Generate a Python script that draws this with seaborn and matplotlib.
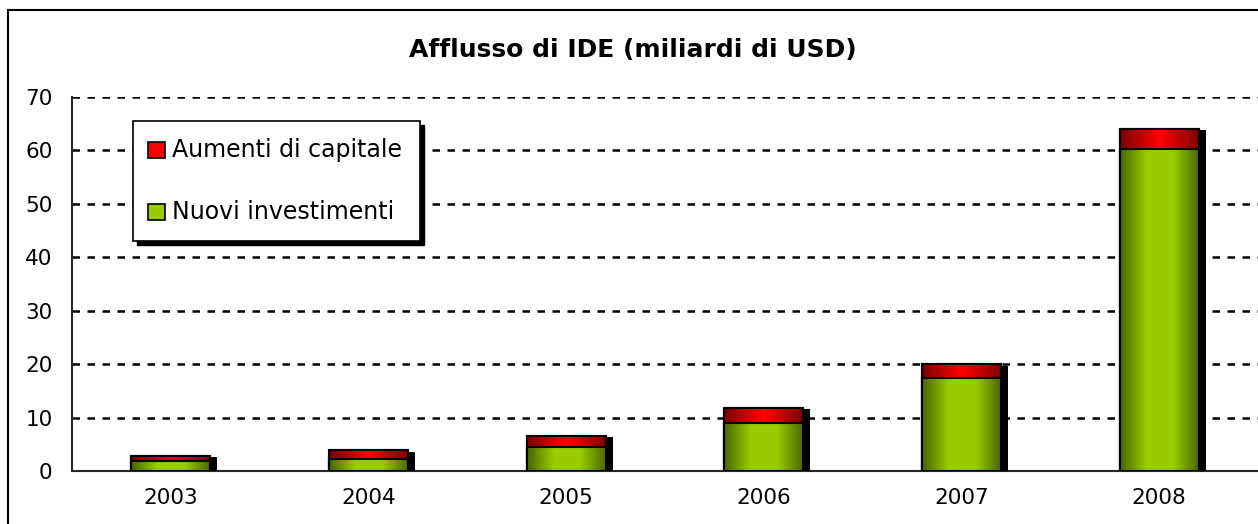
import numpy as np
import pandas as pd
import matplotlib
matplotlib.use("Agg")
import matplotlib.pyplot as plt
import seaborn as sns
from matplotlib.colors import LinearSegmentedColormap
from matplotlib.patches import Rectangle
import matplotlib.patheffects as pe

# data
years = ["2003", "2004", "2005", "2006", "2007", "2008"]
nuovi = [1.9, 2.2, 4.5, 9.0, 17.4, 60.3]
aumenti = [1.0, 1.7, 2.1, 2.8, 2.6, 3.7]
totale = [n + a for n, a in zip(nuovi, aumenti)]
y_ticks = [0, 10, 20, 30, 40, 50, 60, 70]

df = pd.DataFrame({"anno": years, "nuovi": nuovi, "totale": totale})

sns.set_style("white")
plt.rcParams["font.family"] = ["DejaVu Sans"]
plt.rcParams["text.color"] = "black"
plt.rcParams["xtick.color"] = "black"
plt.rcParams["ytick.color"] = "black"

fig = plt.figure(figsize=(12.58, 5.24), dpi=100)
ax = fig.add_axes([72 / 1258, 53 / 524, 1 - 72 / 1258, 374 / 524])

# outer chart frame
fig.patches.append(Rectangle((8 / 1258, -0.05), 1.2, 1 - 10 / 524 + 0.05,
                             transform=fig.transFigure, fill=False,
                             edgecolor="black", linewidth=1.5, zorder=0))

shadow = [pe.SimplePatchShadow(offset=(5, -1), shadow_rgbFace="black", alpha=1), pe.Normal()]
sns.barplot(data=df, x="anno", y="totale", color="red", width=0.4,
            edgecolor="black", linewidth=1.5, ax=ax, zorder=3)
n_red = len(ax.patches)
sns.barplot(data=df, x="anno", y="nuovi", color="#99cc00", width=0.4,
            edgecolor="black", linewidth=1.5, ax=ax, zorder=4)

# horizontal shading inside each bar segment
red_cmap = LinearSegmentedColormap.from_list("r", ["#7a0000", "#ff0000", "#7a0000"])
green_cmap = LinearSegmentedColormap.from_list("g", ["#4a6400", "#99cc00", "#99cc00", "#4a6400"])
grad = np.linspace(0, 1, 256).reshape(1, -1)
for i, p in enumerate(ax.patches):
    cmap = red_cmap if i < n_red else green_cmap
    if i < n_red:
        p.set_path_effects(shadow)
    x0, y0 = p.get_x(), p.get_y()
    w, h = p.get_width(), p.get_height()
    im = ax.imshow(grad, cmap=cmap, aspect="auto", extent=(x0, x0 + w, y0, y0 + h),
                   zorder=p.get_zorder() + 0.1, interpolation="bilinear")
    im.set_clip_path(p)
    ax.add_patch(Rectangle((x0, y0), w, h, fill=False, edgecolor="black",
                           linewidth=1.5, zorder=p.get_zorder() + 0.2))

ax.set_xlim(-0.5, 5.5)
ax.set_ylim(0, 70)
ax.set_yticks(y_ticks)
ax.set_xticks(range(len(years)))
ax.set_xticklabels(years)
ax.set_xticks(np.arange(-0.5, 5.6, 1), minor=True)
ax.tick_params(axis="x", which="major", length=0, pad=12, labelsize=15.5)
ax.tick_params(axis="x", which="minor", length=7, width=1.5, direction="out", color="black")
ax.tick_params(axis="y", length=7, width=1.5, direction="out", color="black", labelsize=15.5, pad=7)
ax.set_xlabel("")
ax.set_ylabel("")
for y in y_ticks[1:]:
    ax.axhline(y, color="black", linestyle=(0, (3, 3)), linewidth=1.8, zorder=1)
sns.despine(ax=ax, top=True, right=True)
ax.spines["left"].set_linewidth(1.5)
ax.spines["bottom"].set_linewidth(1.5)

fig.text(633 / 1258, 1 - 50 / 524, "Afflusso di IDE (miliardi di USD)",
         ha="center", va="center", fontsize=18, fontweight="bold")

# legend box with shadow
lx, ly, lw, lh = 133 / 1258, 1 - 241 / 524, 287 / 1258, 120 / 524
fig.patches.append(Rectangle((lx + 4 / 1258, ly - 4 / 524), lw, lh, transform=fig.transFigure,
                             facecolor="black", edgecolor="black", zorder=5))
fig.patches.append(Rectangle((lx, ly), lw, lh, transform=fig.transFigure,
                             facecolor="white", edgecolor="black", linewidth=1.2, zorder=6))
for k, (lab, col) in enumerate([("Aumenti di capitale", "#ff0000"), ("Nuovi investimenti", "#99cc00")]):
    cy = 1 - (150 + 62 * k) / 524
    fig.patches.append(Rectangle((148 / 1258, cy - 8 / 524), 17 / 1258, 16 / 524,
                                 transform=fig.transFigure, facecolor=col,
                                 edgecolor="black", linewidth=1.2, zorder=7))
    fig.text(172 / 1258, cy, lab, ha="left", va="center", fontsize=17, zorder=8)

fig.savefig("out.png", dpi=100)
